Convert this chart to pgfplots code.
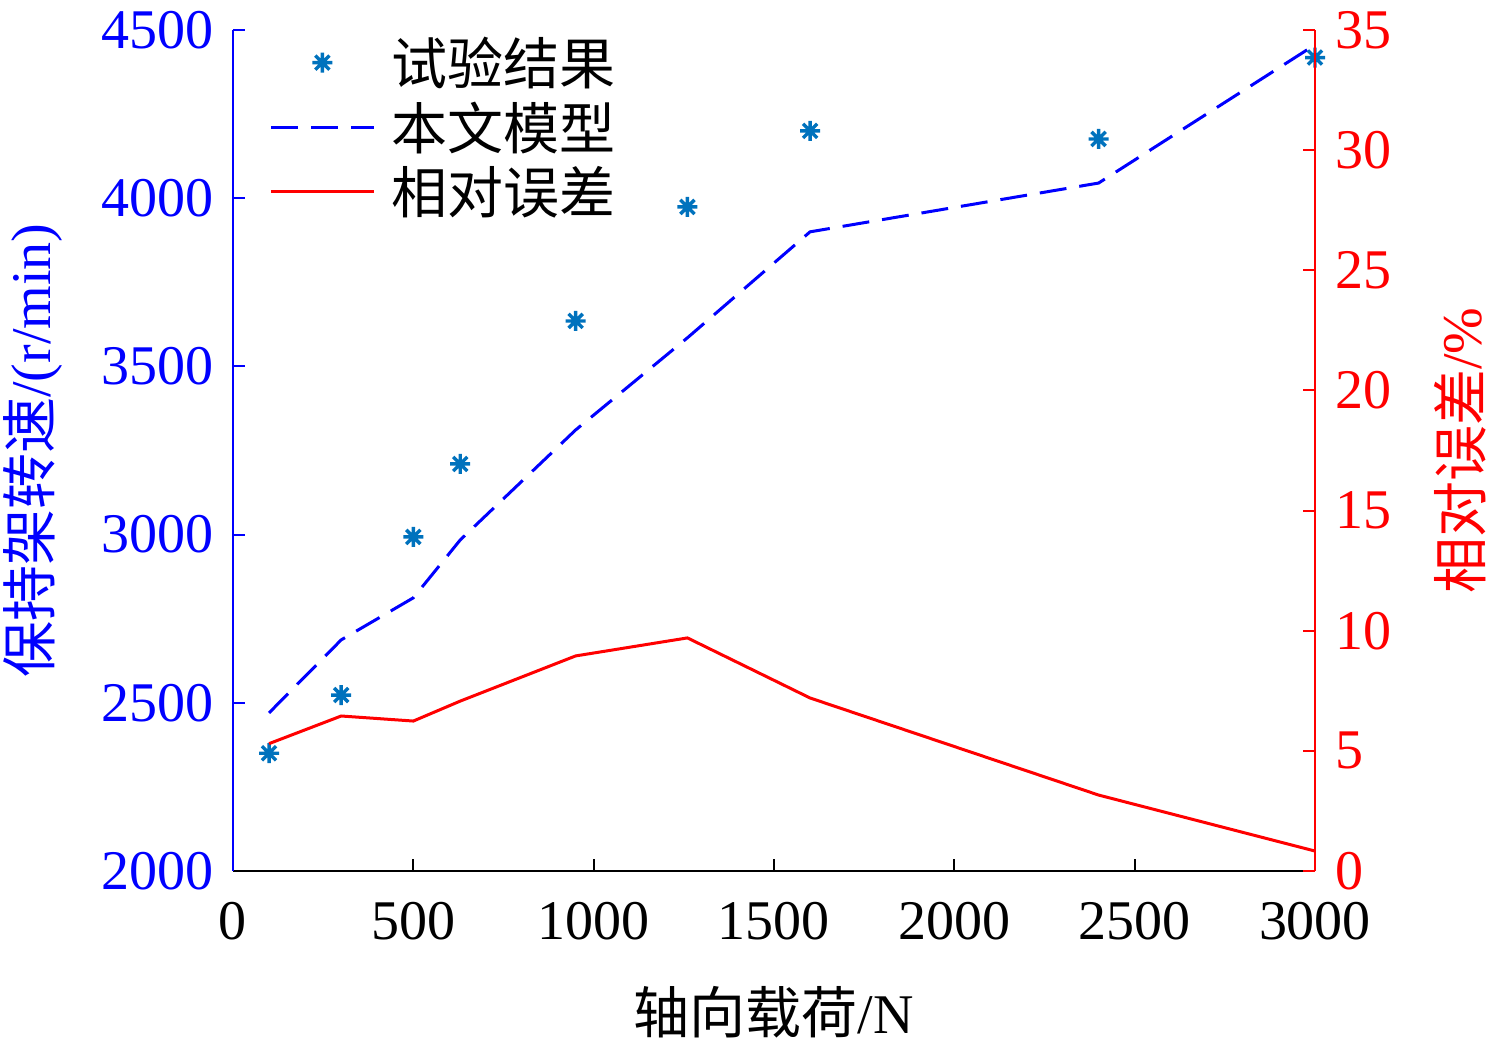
\documentclass[border=0pt]{standalone}
\usepackage{fontspec}
\setmainfont{Liberation Serif}
\newfontfamily\cjk{Noto Sans CJK SC}
\usepackage{pgfplots}
\pgfplotsset{compat=1.18}
\definecolor{mblue}{RGB}{0,114,189}
\definecolor{lblue}{RGB}{0,0,255}
\definecolor{lred}{RGB}{255,0,0}
\pgfdeclareplotmark{astEight}{%
  \pgfpathmoveto{\pgfqpoint{0pt}{\pgfplotmarksize}}\pgfpathlineto{\pgfqpoint{0pt}{-\pgfplotmarksize}}%
  \pgfpathmoveto{\pgfqpoint{\pgfplotmarksize}{0pt}}\pgfpathlineto{\pgfqpoint{-\pgfplotmarksize}{0pt}}%
  \pgfpathmoveto{\pgfqpoint{0.707\pgfplotmarksize}{0.707\pgfplotmarksize}}\pgfpathlineto{\pgfqpoint{-0.707\pgfplotmarksize}{-0.707\pgfplotmarksize}}%
  \pgfpathmoveto{\pgfqpoint{-0.707\pgfplotmarksize}{0.707\pgfplotmarksize}}\pgfpathlineto{\pgfqpoint{0.707\pgfplotmarksize}{-0.707\pgfplotmarksize}}%
  \pgfusepathqstroke}
\begin{document}
\begin{tikzpicture}[font=\fontsize{28}{34}\selectfont]
\useasboundingbox (-116.5pt,-88pt) rectangle (631.5pt,435.5pt);
\begin{axis}[
  scale only axis, width=541pt, height=420.5pt,
  xmin=0, xmax=3000, ymin=2000, ymax=4500,
  axis x line*=bottom, axis y line*=left,
  x axis line style={black,-,line width=1pt},
  y axis line style={lblue,-,line width=1pt},
  xtick={0,500,...,3000}, ytick={2000,2500,...,4500},
  tick align=inside, major tick length=6pt,
  x tick style={black,line width=1pt},
  y tick style={lblue,line width=1pt},
  yticklabel style={lblue,xshift=-6pt},
  xticklabel style={black,yshift=-12pt},
  /pgf/number format/assume math mode=true,
  /pgf/number format/1000 sep={},
  scaled ticks=false,
  clip=false,
  xlabel={{\cjk 轴向载荷}/N},
  xlabel style={at={(axis description cs:0.5,-0.1677)},anchor=center},
  ylabel={{\cjk 保持架转速}/(r/min)},
  ylabel style={lblue,at={(axis description cs:-0.1848,0.5)},anchor=center,rotate=0},
  legend style={draw=none,fill=none,at={(axis description cs:0,1)},anchor=north west,
    xshift=18pt,yshift=-0.5pt,inner sep=0pt,row sep=1pt,
    nodes={inner ysep=3pt,inner xsep=8pt},font=\fontsize{28}{34}\selectfont\cjk},
  legend cell align=left,
  legend image code/.code={\draw[mark repeat=2,mark phase=2] plot coordinates {(0pt,0pt) (25.75pt,0pt) (51.5pt,0pt)};},
]
\addplot[only marks,mark=astEight,mark size=5pt,color=mblue,mark options={line width=1.7pt}]
coordinates {(100,2350) (300,2523) (500,2993) (630,3210) (950,3635) (1260,3974) (1600,4200) (2400,4176) (3000,4418)};
\addlegendentry{试验结果}
\addplot[lblue,line width=1.5pt,dash pattern=on 13.5pt off 6.5pt]
coordinates {(100,2470) (300,2687) (500,2812) (630,2984) (950,3311) (1260,3585) (1600,3900) (2400,4045) (3000,4456)};
\addlegendentry{本文模型}
\addlegendimage{lred,line width=1.5pt}
\addlegendentry{相对误差}
\end{axis}
\begin{axis}[
  scale only axis, width=541pt, height=420.5pt,
  xmin=0, xmax=3000, ymin=0, ymax=35,
  axis x line=none, axis y line*=right,
  y axis line style={lred,-,line width=1pt},
  ytick={0,5,...,35},
  tick align=inside, major tick length=6pt,
  y tick style={lred,line width=1pt},
  yticklabel style={lred,xshift=6.5pt},
  /pgf/number format/assume math mode=true,
  clip=false,
  ylabel={{\cjk 相对误差}/\%},
  ylabel style={lred,at={(axis description cs:1.134,0.5)},anchor=center,rotate=0},
]
\addplot[lred,line width=1.5pt]
coordinates {(100,5.3) (300,6.45) (500,6.24) (630,7.07) (950,8.95) (1260,9.7) (1600,7.2) (2400,3.16) (3000,0.83)};
\end{axis}
\end{tikzpicture}
\end{document}
